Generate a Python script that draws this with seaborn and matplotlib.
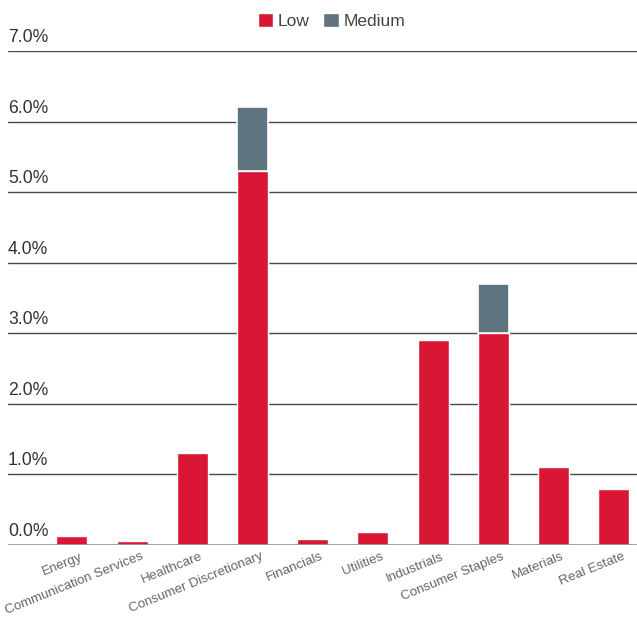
import matplotlib
matplotlib.use("Agg")
import matplotlib.pyplot as plt
import seaborn as sns
import pandas as pd
from matplotlib.patches import Patch
from matplotlib.transforms import blended_transform_factory, ScaledTranslation

categories = ["Energy", "Communication Services", "Healthcare", "Consumer Discretionary",
              "Financials", "Utilities", "Industrials", "Consumer Staples", "Materials", "Real Estate"]
low = [0.13, 0.06, 1.3, 5.3, 0.09, 0.18, 2.9, 3.0, 1.1, 0.8]
medium = [0.0, 0.0, 0.0, 0.9, 0.0, 0.0, 0.0, 0.7, 0.0, 0.0]
yticks = [0, 1, 2, 3, 4, 5, 6, 7]
ytick_labels = ["0.0%", "1.0%", "2.0%", "3.0%", "4.0%", "5.0%", "6.0%", "7.0%"]

RED = "#D91634"
GREY = "#5E7580"

sns.set_theme(style="white")
plt.rcParams["font.family"] = ["Liberation Sans", "DejaVu Sans"]

df = pd.DataFrame({"cat": categories, "low": low, "medium": medium})

fig = plt.figure(figsize=(6.37, 6.18), dpi=100)
ax = fig.add_axes([8 / 637, (618 - 545) / 618, 1 - 8 / 637, (545 - 51) / 618])

for y in yticks[1:]:
    ax.axhline(y, color="#4a4a4a", lw=1.0, zorder=0)

sns.barplot(data=df, x="cat", y="low", color=RED, width=0.515, saturation=1,
            ax=ax, zorder=2)
sns.barplot(data=df, x="cat", y="medium", color=GREY, width=0.515, saturation=1,
            bottom=df["low"].values, edgecolor="white", linewidth=1.2, ax=ax, zorder=2)

ax.axhline(0, color="#9a9a9a", lw=2.0, zorder=3)

ax.set_xlim(-1.063, 9.386)
ax.set_ylim(0, 7.0)
for s in ax.spines.values():
    s.set_visible(False)
ax.set_xlabel("")
ax.set_ylabel("")
ax.set_yticks([])
ax.set_xticks(range(len(categories)))
ax.set_xticklabels(categories, rotation=22, ha="right", rotation_mode="anchor",
                   fontsize=9.6, color="#666666")
ax.tick_params(axis="x", length=0, pad=4)
offset = ScaledTranslation(0.08, 0.0, fig.dpi_scale_trans)
for lab in ax.get_xticklabels():
    lab.set_transform(lab.get_transform() + offset)

trans = blended_transform_factory(ax.transAxes, ax.transData)
for y, lab in zip(yticks, ytick_labels):
    ax.text(0, y + 0.07, lab, transform=trans, ha="left", va="bottom",
            fontsize=12.7, color="#333333")

handles = [Patch(facecolor=RED, label="Low"), Patch(facecolor=GREY, label="Medium")]
fig.legend(handles=handles, loc="upper center", bbox_to_anchor=(0.52, 1.005), ncol=2,
           frameon=False, fontsize=12.5, handlelength=0.9, handleheight=0.9,
           handletextpad=0.25, columnspacing=0.8, labelcolor="#444444")

fig.savefig("out.png", dpi=100)
